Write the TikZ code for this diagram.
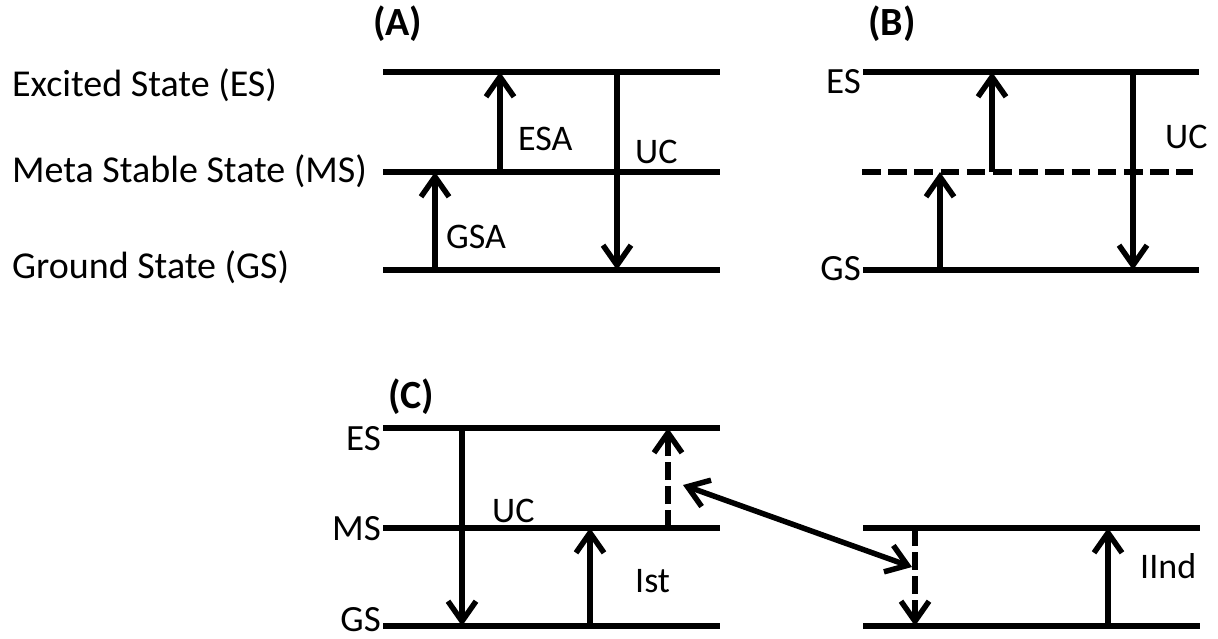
\documentclass[tikz,border=0pt]{standalone}
\usepackage{fontspec}
\setmainfont{Carlito}
\usetikzlibrary{arrows.meta}
\begin{document}
\begin{tikzpicture}[x=1pt,y=-1pt,
  level/.style={line width=6.5pt},
  dashlevel/.style={level,dash pattern=on 18.5pt off 7.7pt},
  barb/.tip={Straight Barb[length=20pt,width=28pt]},
  trans/.style={line width=5.5pt,-barb},
  dtrans/.style={trans,dash pattern=on 18pt off 6pt},
  both/.style={line width=5.5pt,barb-barb},
  side/.style={inner sep=0pt,font=\fontsize{38}{40}\selectfont,anchor=base west},
  tag/.style={inner sep=0pt,font=\fontsize{36}{38}\selectfont,anchor=base west},
  state/.style={inner sep=0pt,font=\fontsize{37}{39}\selectfont,anchor=base east},
  panel/.style={inner sep=0pt,font=\fontsize{40}{42}\bfseries\selectfont,anchor=base west}]
\useasboundingbox (0,0) rectangle (1218,638);

% ---------- panel (A) ----------
\node[panel] (pA) at (373,35) {(A)};
\node[side] (esA) at (12,96) {Excited State (ES)};
\node[side] (msA) at (12,182) {Meta Stable State (MS)};
\node[side] (gsA) at (12,278) {Ground State (GS)};
\coordinate (A-es1) at (383,72);  \coordinate (A-es2) at (720,72);
\coordinate (A-ms1) at (383,172); \coordinate (A-ms2) at (720,172);
\coordinate (A-gs1) at (383,270); \coordinate (A-gs2) at (720,270);
\draw[level] (A-es1) -- (A-es2);
\draw[level] (A-ms1) -- (A-ms2);
\draw[level] (A-gs1) -- (A-gs2);
\coordinate (A-gsa0) at (435,270); \coordinate (A-gsa1) at (435,172);
\coordinate (A-esa0) at (500,172); \coordinate (A-esa1) at (500,72);
\coordinate (A-uc0) at (617,72);   \coordinate (A-uc1) at (617,270);
\draw[trans] (A-gsa0) -- (A-gsa1);
\draw[trans] (A-esa0) -- (A-esa1);
\draw[trans] (A-uc0) -- (A-uc1);
\node[tag] (tESA) at (518,150) {ESA};
\node[tag] (tUCA) at (635,163) {UC};
\node[tag] (tGSA) at (446,248) {GSA};

% ---------- panel (B) ----------
\node[panel] (pB) at (868,35) {(B)};
\node[state] (esB) at (861,93) {ES};
\node[state] (gsB) at (861,280) {GS};
\coordinate (B-es1) at (863,72);  \coordinate (B-es2) at (1199,72);
\coordinate (B-ms1) at (862,172); \coordinate (B-ms2) at (1193,172);
\coordinate (B-gs1) at (863,270); \coordinate (B-gs2) at (1199,270);
\draw[level] (B-es1) -- (B-es2);
\draw[dashlevel] (B-ms1) -- (B-ms2);
\draw[level] (B-gs1) -- (B-gs2);
\coordinate (B-a0) at (940,270);  \coordinate (B-a1) at (940,172);
\coordinate (B-b0) at (992,172);  \coordinate (B-b1) at (992,72);
\coordinate (B-uc0) at (1133,72); \coordinate (B-uc1) at (1133,270);
\draw[trans] (B-a0) -- (B-a1);
\draw[trans] (B-b0) -- (B-b1);
\draw[trans] (B-uc0) -- (B-uc1);
\node[tag] (tUCB) at (1165,148) {UC};

% ---------- panel (C) ----------
\node[panel] (pC) at (388,408) {(C)};
\node[state] (esC) at (381,450) {ES};
\node[state] (msC) at (381,540) {MS};
\node[state] (gsC) at (381,631) {GS};
\coordinate (C-es1) at (383,428); \coordinate (C-es2) at (720,428);
\coordinate (C-ms1) at (383,528); \coordinate (C-ms2) at (720,528);
\coordinate (C-gs1) at (383,626); \coordinate (C-gs2) at (720,626);
\draw[level] (C-es1) -- (C-es2);
\draw[level] (C-ms1) -- (C-ms2);
\draw[level] (C-gs1) -- (C-gs2);
\coordinate (C-uc0) at (462,428); \coordinate (C-uc1) at (462,626);
\coordinate (C-i0) at (590,626);  \coordinate (C-i1) at (590,528);
\coordinate (C-d0) at (668,528);  \coordinate (C-d1) at (668,428);
\draw[trans] (C-uc0) -- (C-uc1);
\draw[trans] (C-i0) -- (C-i1);
\draw[dtrans] (C-d0) -- (C-d1);
\node[tag] (tUCC) at (492,522) {UC};
\node[tag] (tIst) at (635,592) {Ist};

% second ion
\coordinate (D-ms1) at (863,528); \coordinate (D-ms2) at (1200,528);
\coordinate (D-gs1) at (863,626); \coordinate (D-gs2) at (1200,626);
\draw[level] (D-ms1) -- (D-ms2);
\draw[level] (D-gs1) -- (D-gs2);
\coordinate (D-d0) at (915,528);  \coordinate (D-d1) at (915,626);
\coordinate (D-i0) at (1108,626); \coordinate (D-i1) at (1108,528);
\draw[dtrans] (D-d0) -- (D-d1);
\draw[trans] (D-i0) -- (D-i1);
\node[tag] (tIInd) at (1140,578) {IInd};

% energy transfer between the two ions
\coordinate (T0) at (683,485); \coordinate (T1) at (912,567);
\draw[both] (T0) -- (T1);
\end{tikzpicture}
\end{document}
